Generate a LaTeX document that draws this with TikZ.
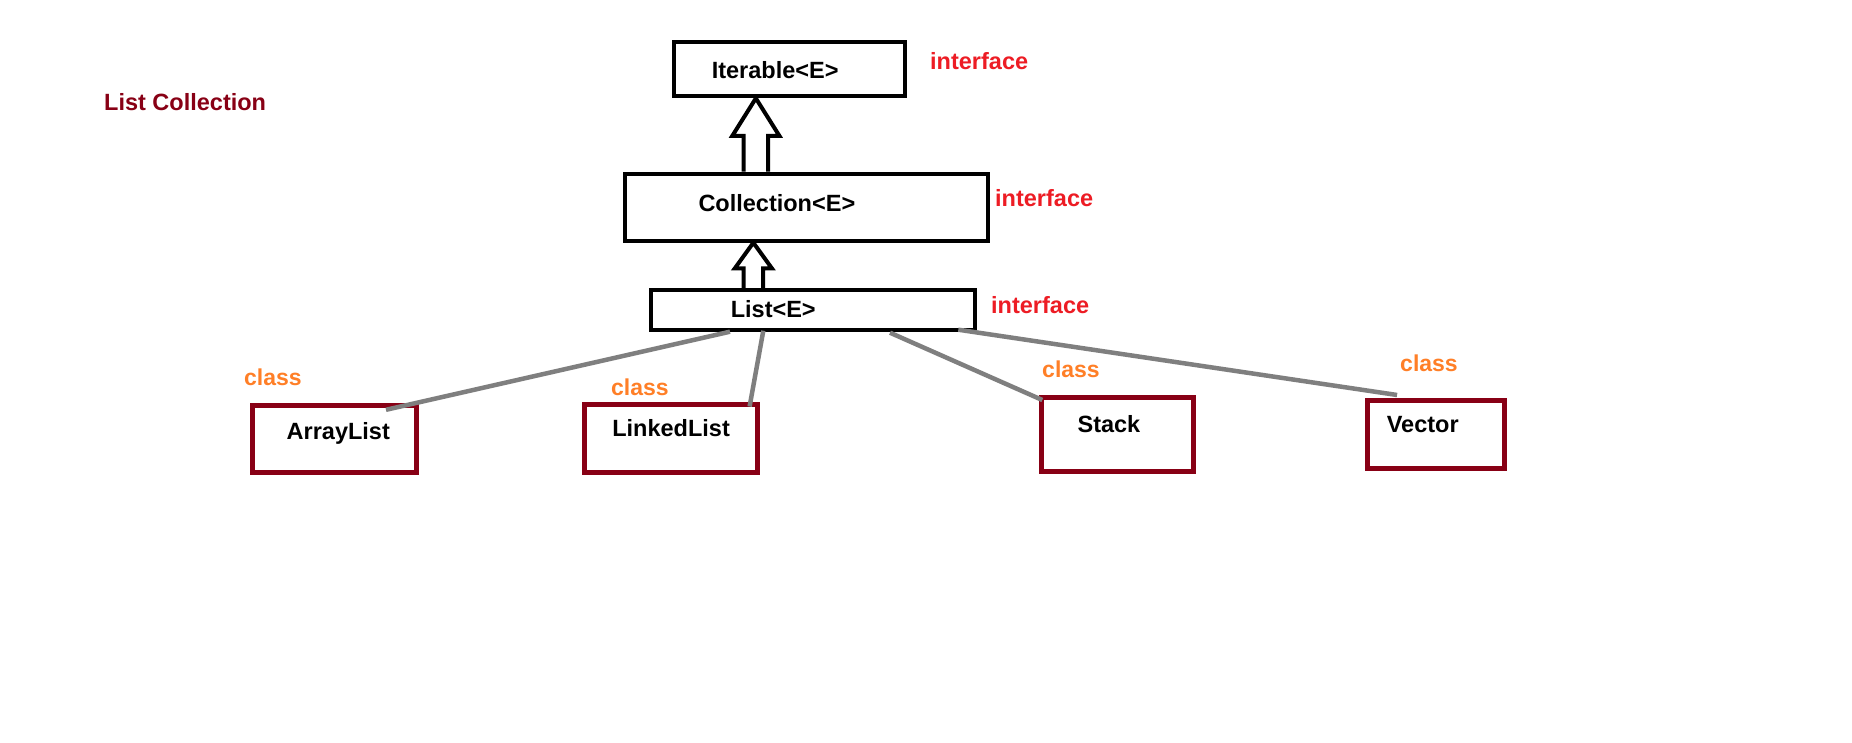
\documentclass[tikz,border=0pt]{standalone}
\usepackage{fontspec}
\setmainfont{Liberation Sans}
\usetikzlibrary{calc}
\definecolor{darkred}{RGB}{136,0,21}
\definecolor{ifacered}{RGB}{237,28,36}
\definecolor{classorange}{RGB}{255,127,39}
\definecolor{linkgray}{RGB}{127,127,127}
\newcommand{\labelfont}{\fontsize{23.5}{28}\selectfont\bfseries}
% hollow block arrow: lower node, upper node, axis, shaft half width, head half width, head length
\newcommand{\hollowup}[6]{%
  \draw[hollow] ($(#3 |- #1.north)+(-#4,-2)$) -- ($(#3 |- #2.south)+(-#4,2+#6)$)
    -- ($(#3 |- #2.south)+(-#5,2+#6)$) -- ($(#3 |- #2.south)+(0,2)$)
    -- ($(#3 |- #2.south)+(#5,2+#6)$) -- ($(#3 |- #2.south)+(#4,2+#6)$)
    -- ($(#3 |- #1.north)+(#4,-2)$);}

\begin{document}
\begin{tikzpicture}[x=1pt,y=-1pt,
    iface/.style={draw, line width=4pt, inner ysep=0pt, outer sep=0pt, align=left, font=\labelfont},
    cls/.style={draw=darkred, line width=5pt, inner ysep=0pt, outer sep=0pt, align=left, font=\labelfont},
    tag/.style={inner sep=0pt, anchor=base west, font=\labelfont},
    link/.style={linkgray, line width=4.5pt},
    hollow/.style={draw, fill=white, line width=4pt, line join=miter}]
    \path[use as bounding box, fill=white] (0,0) rectangle (1852,743);
    % title
    \node[tag, text=darkred] (title) at (104,110.7) {List Collection};
    % interfaces
    \node[iface, text width=154.8pt, inner xsep=38.1pt, text height=36.3pt, text depth=18pt] (iter) at (789.2,69.15) {Iterable<E>};
    \node[iface, text width=216.3pt, inner xsep=73.2pt, text height=38.3pt, text depth=28.7pt] (coll) at (806.65,207.2) {Collection<E>};
    \node[iface, text width=164.4pt, inner xsep=79.5pt, text height=27.7pt, text depth=12pt] (list) at (813,309.85) {List<E>};
    \node[tag, text=ifacered] (itag) at (930,69.3) {interface};
    \node[tag, text=ifacered] (ctag) at (995,206.7) {interface};
    \node[tag, text=ifacered] (ltag) at (991,313.3) {interface};
    % extends
    \coordinate (up1) at (755.85,0);
    \coordinate (up2) at (753.35,0);
    \hollowup{coll}{iter}{up1}{12.15}{23.5}{37.5}
    \hollowup{list}{coll}{up2}{9.65}{18.5}{25.6}
    % classes
    \node[cls, align=right, text width=111.3pt, inner xsep=26.6pt, text height=33.5pt, text depth=33.2pt] (alist) at (334.25,439.15) {ArrayList};
    \node[cls, align=center, text width=173.6pt, inner xsep=0pt, text height=32.2pt, text depth=35.8pt] (llist) at (671.1,438.5) {LinkedList};
    \node[cls, text width=80.5pt, inner xsep=35.8pt, text height=35.2pt, text depth=38.8pt] (stack) at (1117.85,434.5) {Stack};
    \node[cls, text width=98.5pt, inner xsep=19.3pt, text height=31.9pt, text depth=35.8pt] (vec) at (1436.05,434.65) {Vector};
    \node[tag, text=classorange, font=\fontsize{23}{28}\selectfont\bfseries] (atag) at (244,385.7) {class};
    \node[tag, text=classorange, font=\fontsize{23}{28}\selectfont\bfseries] (lltag) at (611,395) {class};
    \node[tag, text=classorange, font=\fontsize{23}{28}\selectfont\bfseries] (stag) at (1042,377.7) {class};
    \node[tag, text=classorange, font=\fontsize{23}{28}\selectfont\bfseries] (vtag) at (1400,371.7) {class};
    % implements
    \draw[link] ([xshift=-83pt,yshift=-2pt]list.south) -- ([xshift=51.75pt,yshift=-4pt]alist.north);
    \draw[link] ([xshift=-49.7pt,yshift=-1pt]list.south) -- ([xshift=78.5pt,yshift=-2pt]llist.north);
    \draw[link] ([xshift=77pt,yshift=-3pt]list.south) -- ([xshift=0.5pt,yshift=-2.5pt]stack.north west);
    \draw[link] ([xshift=-16.4pt]list.south east) -- ([xshift=-39pt,yshift=5.8pt]vec.north);
\end{tikzpicture}
\end{document}
